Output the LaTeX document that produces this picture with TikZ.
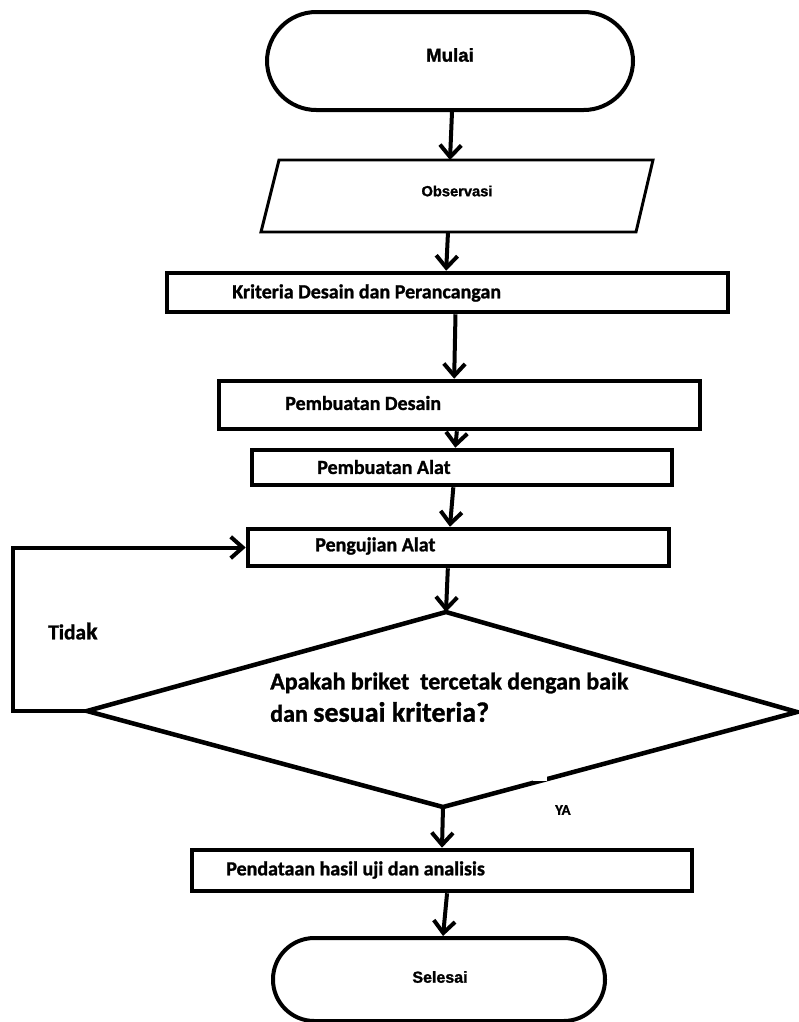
\documentclass[tikz,border=0pt]{standalone}
\usepackage{fontspec}
\setmainfont{Carlito}[BoldFeatures={FakeBold=1.2}]
\newfontfamily\termfont{Liberation Sans}[BoldFeatures={FakeBold=1.5}]
\usetikzlibrary{arrows.meta,fit}
\begin{document}
\begin{tikzpicture}[x=0.75pt,y=-0.75pt,
  box/.style={draw, line width=3.4pt, inner sep=0pt, rectangle},
  term/.style={draw, line width=3pt, inner sep=0pt, rectangle},
  flow/.style={line width=3pt, -{Straight Barb[length=9pt,width=16pt]}},
  lbl/.style={font=\bfseries\fontsize{15}{18}\selectfont, inner sep=0pt, anchor=west},
  tlbl/.style={font=\termfont\bfseries, inner sep=0pt},
  ]
\useasboundingbox (0,0) rectangle (799,1022);
\clip (0,0) rectangle (799,1022);

% start terminal
\node[term, rounded corners=37pt, fit={(267,12)(633,110)}] (start) {};
\node[tlbl, font=\termfont\bfseries\fontsize{14}{16}\selectfont] (tstart) at (450,55) {Mulai};

% observasi parallelogram
\draw[line width=2.2pt, line join=miter] (279,160) -- (653,160) -- (636,232) -- (261,232) -- cycle;
\coordinate (obsTop) at (450,160);
\coordinate (obsBot) at (448,232);
\node[tlbl, font=\termfont\bfseries\fontsize{11}{13}\selectfont] (tobs) at (457,191) {Observasi};

% process boxes
\node[box, fit={(167,273)(728,312)}] (kri) {};
\node[lbl] (tkri) at (232,293) {Kriteria Desain dan Perancangan};

\node[box, fit={(219,381)(700,429)}] (des) {};
\node[lbl] (tdes) at (285,403) {Pembuatan Desain};

\node[box, fit={(252,450)(672,485)}] (alat) {};
\node[lbl] (talat) at (317,467) {Pembuatan Alat};

\node[box, fit={(248,529)(669,566)}] (uji) {};
\node[lbl] (tuji) at (315,546) {Pengujian Alat};

% decision diamond
\coordinate (dT) at (446,612);
\coordinate (dL) at (87,711);
\coordinate (dR) at (797,712);
\coordinate (dB) at (443,807);
\draw[line width=3.4pt, line join=miter] (dT) -- (dR) -- (dB) -- (dL) -- cycle;
\fill[white] (533,776) rectangle (547,780.5);
\node[lbl, font=\bfseries\fontsize{18}{21}\selectfont] (q1) at (270,683) {Apakah briket\ \ tercetak dengan baik};
\node[lbl, font=\bfseries\fontsize{18}{21}\selectfont] (q2) at (270,712) {dan {\fontsize{21}{24}\selectfont sesuai kriteria?}};

\node[box, fit={(192,850)(692,891)}] (pend) {};
\node[lbl] (tpend) at (226,870) {Pendataan hasil uji dan analisis};

% end terminal
\node[term, rounded corners=31pt, fit={(273,938)(605,1021)}] (end) {};
\node[tlbl, font=\termfont\bfseries\fontsize{12}{14}\selectfont] (tend) at (440,977) {Selesai};

% labels
\node[lbl, font=\bfseries\fontsize{16}{19}\selectfont] (tidak) at (48,631) {Tida{\fontsize{18}{20}\selectfont k}};
\node[lbl, font=\bfseries\fontsize{11}{13}\selectfont] (ya) at (555,810) {YA};

% connectors
\draw[flow] ([xshift=1.5pt]start.south) -- (obsTop);
\draw[flow] (obsBot) -- ([xshift=-1pt]kri.north);
\draw[flow] ([xshift=6pt]kri.south) -- ([xshift=-4pt]des.north);
\draw[flow] ([xshift=-2pt]des.south) -- ([xshift=-5pt]alat.north);
\draw[flow] ([xshift=-6.5pt]alat.south) -- ([xshift=-6.4pt]uji.north);
\draw[flow] ([xshift=-8pt]uji.south) -- (dT);
\draw[flow] (dB) -- (pend.north);
\draw[flow] ([xshift=3.8pt]pend.south) -- ([xshift=3pt]end.north);
\draw[flow] (dL) -- (13,711) |- (uji.west);
\end{tikzpicture}
\end{document}
